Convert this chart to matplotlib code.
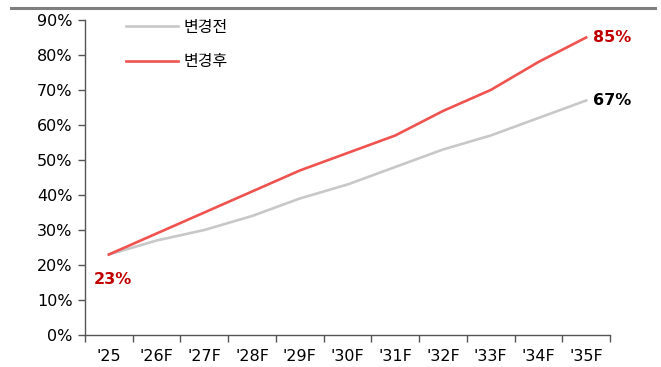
import matplotlib.pyplot as plt
from matplotlib.lines import Line2D

plt.rcParams['font.family'] = ['DejaVu Sans', 'Noto Sans CJK KR']

years = ["'25", "'26F", "'27F", "'28F", "'29F", "'30F", "'31F", "'32F", "'33F", "'34F", "'35F"]
before = [23, 27, 30, 34, 39, 43, 48, 53, 57, 62, 67]
after = [23, 29, 35, 41, 47, 52, 57, 64, 70, 78, 85]
yticks = [0, 10, 20, 30, 40, 50, 60, 70, 80, 90]

fig = plt.figure(figsize=(6.61, 3.67), dpi=100)
ax = fig.add_axes([85 / 661, 1 - 335 / 367, 525 / 661, 315 / 367])

x = list(range(len(years)))
ax.plot(x, before, color='#C8C8C8', lw=1.9, label='변경전')
ax.plot(x, after, color='#EF5350', lw=1.9, label='변경후')

ax.set_xlim(-0.5, len(years) - 0.5)
ax.set_ylim(0, 90)
ax.set_yticks(yticks)
ax.set_yticklabels([f'{v}%' for v in yticks])
ax.set_xticks(x)
ax.set_xticklabels(years)
ax.set_xticks([i - 0.5 for i in range(len(years) + 1)], minor=True)
ax.tick_params(axis='x', which='major', length=0, pad=10, labelsize=11.5)
ax.tick_params(axis='x', which='minor', length=5, width=1, color='#555555')
ax.tick_params(axis='y', length=5, width=1, color='#555555', labelsize=11.5, pad=4)

for s in ['top', 'right']:
    ax.spines[s].set_visible(False)
for s in ['left', 'bottom']:
    ax.spines[s].set_color('#555555')
    ax.spines[s].set_linewidth(1)

# value labels
ax.annotate(f'{after[-1]}%', (x[-1], after[-1]), xytext=(5, 0), textcoords='offset points',
            color='#C00000', fontweight='bold', fontsize=11.5, va='center', ha='left')
ax.annotate(f'{before[-1]}%', (x[-1], before[-1]), xytext=(5, 0), textcoords='offset points',
            color='black', fontweight='bold', fontsize=11.5, va='center', ha='left')
ax.annotate(f'{after[0]}%', (x[0], after[0]), xytext=(3, -18), textcoords='offset points',
            color='#C00000', fontweight='bold', fontsize=11.5, va='center', ha='center')

ax.legend(loc='upper left', bbox_to_anchor=(0.05, 1.05), frameon=False,
          prop={'family': ['Noto Sans CJK KR'], 'size': 11.5},
          handlelength=3.3, handletextpad=0.35, labelspacing=1.1)

# top rule
fig.add_artist(Line2D([11 / 661, 655 / 661], [1 - 8 / 367, 1 - 8 / 367],
                      color='#7F7F7F', lw=2.2, transform=fig.transFigure))

fig.savefig('out.png', dpi=100)
